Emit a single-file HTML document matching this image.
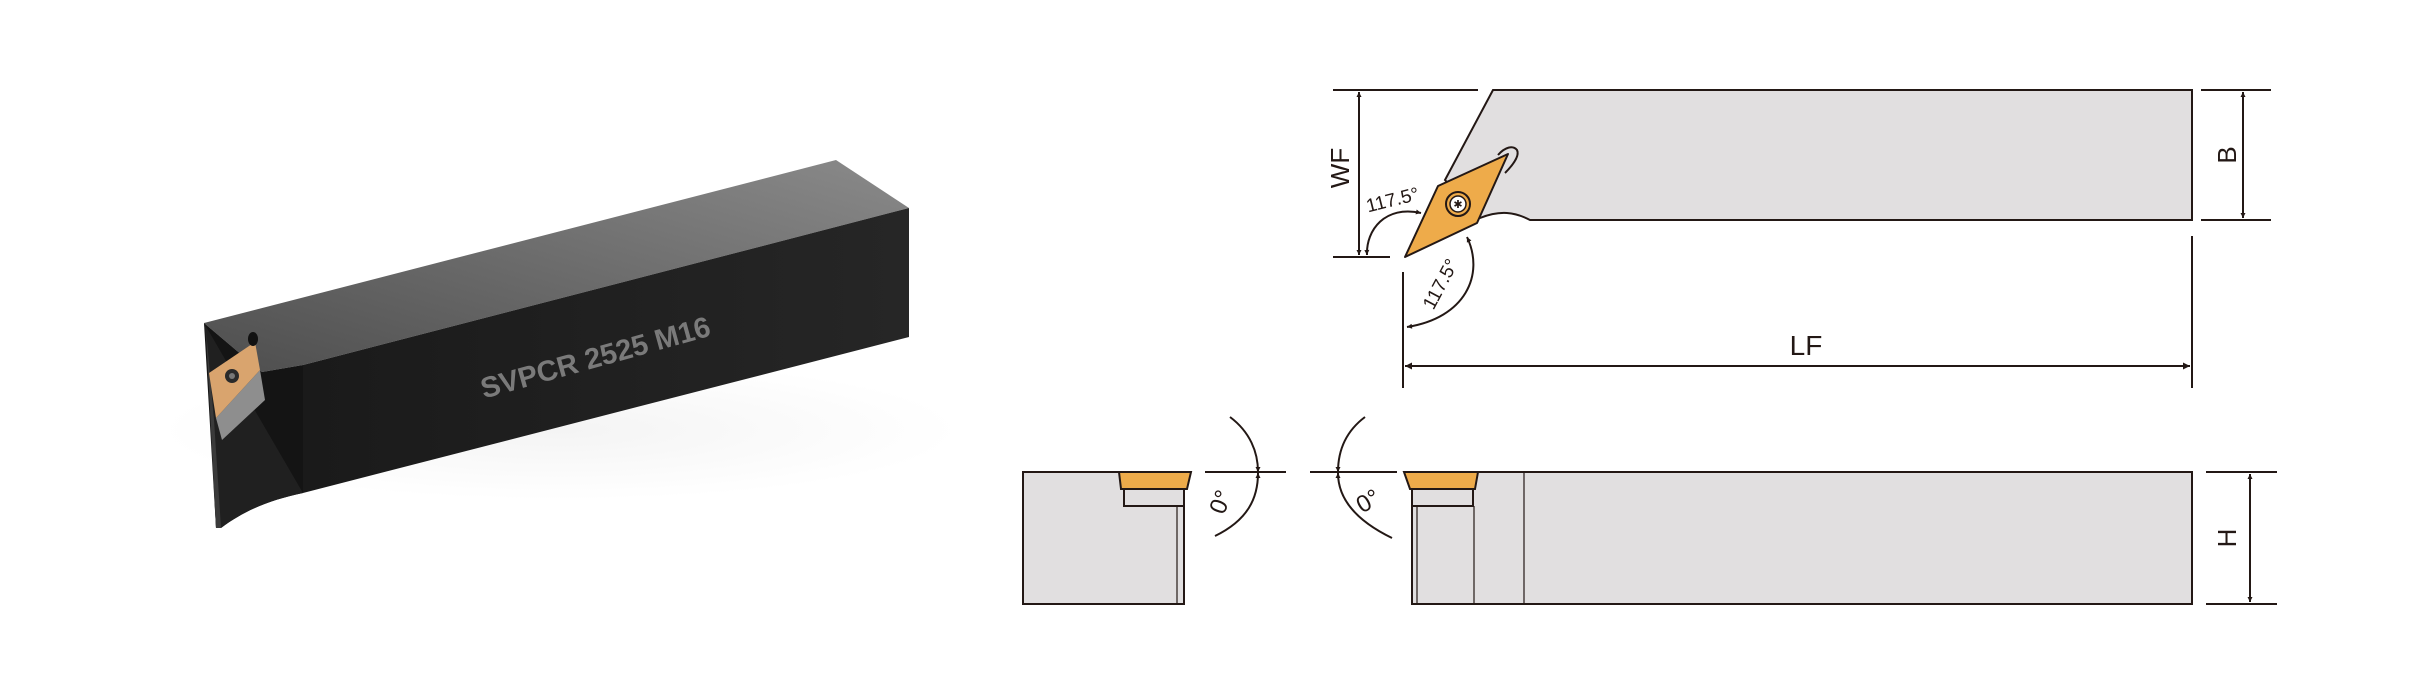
<!DOCTYPE html>
<html><head><meta charset="utf-8"><style>
html,body{margin:0;padding:0;background:#fff;}
svg{display:block;}
text{font-family:"Liberation Sans",sans-serif;}
</style></head><body>
<svg width="2430" height="694" viewBox="0 0 2430 694" xmlns="http://www.w3.org/2000/svg">
<defs>
<linearGradient id="tg" x1="0" y1="1" x2="1" y2="0">
<stop offset="0" stop-color="#4e4e4e"/><stop offset="1" stop-color="#8a8a8a"/></linearGradient>
<linearGradient id="fg" x1="0" y1="0" x2="1" y2="0">
<stop offset="0" stop-color="#1a1a1a"/><stop offset="1" stop-color="#262626"/></linearGradient>
<radialGradient id="sh" cx="0.5" cy="0.5" r="0.5">
<stop offset="0" stop-color="#f4f4f4"/><stop offset="1" stop-color="#ffffff"/></radialGradient>
<marker id="ar" viewBox="0 0 10 10" refX="10" refY="5" markerWidth="9" markerHeight="5" orient="auto-start-reverse" markerUnits="userSpaceOnUse">
<path d="M0,0 L10,5 L0,10 z" fill="#231815"/></marker>
<marker id="ar2" viewBox="0 0 10 10" refX="10" refY="5" markerWidth="20" markerHeight="7" orient="auto-start-reverse" markerUnits="userSpaceOnUse">
<path d="M0,0 L10,5 L0,10 z" fill="#231815"/></marker>
</defs>

<!-- 3D tool -->
<ellipse cx="560" cy="430" rx="400" ry="70" fill="url(#sh)"/>
<polygon points="204,323 836,160 909,208 303,365 262,372" fill="url(#tg)"/>
<polygon points="303,365 909,208 909,337 303,493" fill="url(#fg)"/>
<path d="M204,323 L262,372 L303,365 L303,493 C270,500 245,510 221,528 L216,528 Z" fill="#141414"/>
<path d="M303,493 C270,500 245,510 221,528 L216,528 L206,340 L204,323 Z" fill="#202020"/>
<path d="M206,330 L216,528 L221,528 L214,420 Z" fill="#3a3a3a"/>
<polygon points="216,418 260,370 265,400 222,440" fill="#8e8e8e"/>
<polygon points="209,373 255,342 260,370 216,418" fill="#d9a46e"/>
<ellipse cx="253" cy="339" rx="5" ry="7" fill="#111"/>
<circle cx="232" cy="376" r="7" fill="#2a2a2a"/>
<circle cx="232" cy="376" r="3" fill="#777"/>
<text x="0" y="0" font-size="29" font-weight="bold" fill="#7a7a7a" text-anchor="middle" transform="translate(598,367) rotate(-15.5)">SVPCR 2525 M16</text>

<!-- Top view -->
<g stroke="#231815" stroke-width="2" fill="none">
<path d="M1493,90 L2192,90 L2192,220 L1530,220 C1515,212 1500,210 1480,218 L1445,180 Z" fill="#e1dfe0"/>
<path d="M1498,155 C1505,147 1513,145 1517,150 C1520,156 1512,166 1505,173" />
</g>
<polygon points="1405,257 1438,186 1508,154 1477,223" fill="#eeab4a" stroke="#231815" stroke-width="2" stroke-linejoin="round"/>
<circle cx="1458" cy="204" r="12" fill="#eeab4a" stroke="#231815" stroke-width="2"/>
<circle cx="1458" cy="204" r="8" fill="#fff" stroke="#231815" stroke-width="1.5"/>
<text x="1458" y="208" font-size="11" text-anchor="middle" fill="#231815">✱</text>
<g stroke="#231815" stroke-width="2" fill="none">
<line x1="1333" y1="90" x2="1478" y2="90"/>
<line x1="1333" y1="257" x2="1390" y2="257"/>
<line x1="1359" y1="92" x2="1359" y2="255" marker-start="url(#ar)" marker-end="url(#ar)"/>
<line x1="2201" y1="90" x2="2271" y2="90"/>
<line x1="2201" y1="220" x2="2271" y2="220"/>
<line x1="2243" y1="92" x2="2243" y2="218" marker-start="url(#ar)" marker-end="url(#ar)"/>
<line x1="1403" y1="272" x2="1403" y2="388"/>
<line x1="2192" y1="236" x2="2192" y2="388"/>
<line x1="1405" y1="366" x2="2190" y2="366" marker-start="url(#ar2)" marker-end="url(#ar2)"/>
<path d="M1421,213 C1385,205 1366,230 1367,255" marker-start="url(#ar)" marker-end="url(#ar)"/>
<path d="M1467,237 C1485,275 1465,318 1407,327" marker-start="url(#ar)" marker-end="url(#ar)"/>
</g>
<text font-size="26" fill="#231815" text-anchor="middle" transform="translate(1349,168) rotate(-90)">WF</text>
<text font-size="26" fill="#231815" text-anchor="middle" transform="translate(2236,155) rotate(-90)">B</text>
<text x="1806" y="355" font-size="28" fill="#231815" text-anchor="middle">LF</text>
<text font-size="19" fill="#231815" text-anchor="middle" transform="translate(1394,206) rotate(-14)">117.5°</text>
<text font-size="19" fill="#231815" text-anchor="middle" transform="translate(1446,287) rotate(-62)">117.5°</text>

<!-- Bottom left end view -->
<g stroke="#231815" stroke-width="2" fill="none">
<rect x="1023" y="472" width="161" height="132" fill="#e1dfe0"/>
<line x1="1177" y1="506" x2="1177" y2="604" stroke-width="1.2"/>
<polygon points="1119,472 1191,472 1187,489 1121,489" fill="#eeab4a"/>
<rect x="1124" y="489" width="60" height="17" fill="#e1dfe0"/>
<line x1="1205" y1="472" x2="1286" y2="472"/>
<path d="M1230,417 C1250,432 1258,452 1258,472" marker-end="url(#ar)"/>
<path d="M1215,536 C1248,520 1258,498 1258,473" marker-end="url(#ar)"/>
<line x1="1310" y1="472" x2="1397" y2="472"/>
<path d="M1365,417 C1345,432 1338,452 1338,472" marker-end="url(#ar)"/>
<path d="M1392,538 C1355,520 1338,498 1338,473" marker-end="url(#ar)"/>
<!-- right side view -->
<rect x="1412" y="472" width="780" height="132" fill="#e1dfe0"/>
<line x1="1417" y1="506" x2="1417" y2="604" stroke-width="1.2"/>
<line x1="1474" y1="506" x2="1474" y2="604" stroke-width="1.2"/>
<line x1="1524" y1="472" x2="1524" y2="604" stroke-width="1.2"/>
<polygon points="1404,472 1478,472 1475,489 1410,489" fill="#eeab4a"/>
<rect x="1412" y="489" width="61" height="17" fill="#e1dfe0"/>
<line x1="2206" y1="472" x2="2277" y2="472"/>
<line x1="2206" y1="604" x2="2277" y2="604"/>
<line x1="2250" y1="474" x2="2250" y2="602" marker-start="url(#ar)" marker-end="url(#ar)"/>
</g>
<text font-size="24" fill="#231815" text-anchor="middle" transform="translate(1228,505) rotate(-68)">0°</text>
<text font-size="24" fill="#231815" text-anchor="middle" transform="translate(1372,508) rotate(-30)">0°</text>
<text font-size="26" fill="#231815" text-anchor="middle" transform="translate(2236,538) rotate(-90)">H</text>
</svg>
</body></html>
